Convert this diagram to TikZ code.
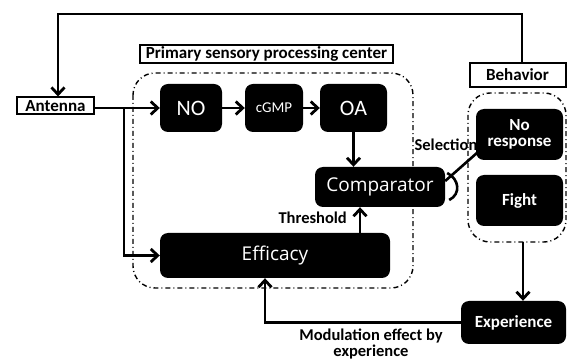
\documentclass[tikz,border=0pt]{standalone}
\usepackage{fontspec}
\setmainfont{Carlito}
\newfontfamily\osans{Open Sans}
\usetikzlibrary{arrows.meta}
\begin{document}
\begin{tikzpicture}[x=1pt,y=-1pt,
 blk/.style={fill=black, rounded corners=8pt, text=white, inner sep=0pt, align=center},
 lbl/.style={draw=black, line width=2pt, fill=white, inner sep=0pt, font=\fontsize{17}{18}\selectfont\bfseries},
 txt/.style={font=\fontsize{16.5}{16}\selectfont\bfseries, inner sep=0pt, align=center},
 arr/.style={line width=2.8pt, -{Straight Barb[length=7pt,width=13pt]}},
 ln/.style={line width=2.6pt},
 reg/.style={line width=1.4pt, dash pattern=on 5pt off 3pt on 1pt off 3pt, rounded corners=22pt}]
\useasboundingbox (0,0) rectangle (568,363);
% regions
\draw[reg] (133,73) rectangle (413,288);
\draw[reg] (468,93) rectangle (566,242);
% free labels
\node[txt] (sel) at (446,145) {Selection};
\node[txt, anchor=east] (thr) at (347,218) {Threshold};
\node[txt] (mod) at (371,344) {Modulation effect by\\experience};
% label boxes
\node[lbl, minimum width=253, minimum height=18] (psp) at (266.5,54) {Primary sensory processing center};
\node[lbl, minimum width=77, minimum height=17] (ant) at (55.5,106) {Antenna};
\node[lbl, minimum width=96, minimum height=24] (beh) at (517.5,75) {Behavior};
% black boxes
\node[blk, minimum width=62, minimum height=48, font=\fontsize{22}{24}\selectfont] (NO) at (191,108) {NO};
\node[blk, minimum width=58, minimum height=48, font=\fontsize{15}{17}\selectfont] (cg) at (274,108) {cGMP};
\node[blk, minimum width=67, minimum height=48, font=\fontsize{22}{24}\selectfont] (OA) at (353.5,108) {OA};
\node[blk, minimum width=130, minimum height=40, font=\osans\fontsize{19}{21}\selectfont] (comp) at (380,187) {Comparator};
\node[blk, minimum width=230, minimum height=45, font=\osans\fontsize{19}{21}\selectfont] (eff) at (275,255.5) {Efficacy};
\node[blk, minimum width=87, minimum height=51, font=\fontsize{17}{16}\selectfont\bfseries] (nr) at (519.5,134.5) {No\\response};
\node[blk, minimum width=87, minimum height=51, font=\fontsize{17}{18}\selectfont\bfseries] (fi) at (519.5,200.5) {Fight};
\node[blk, minimum width=105, minimum height=43, font=\fontsize{17}{18}\selectfont\bfseries] (exp) at (513.5,322.5) {Experience};
% connectors
\coordinate (tr) at (522,14);
\coordinate (tl) at (58,14);
\draw[arr] (tr |- beh.north) -- (tr) -- (tl) -- (tl |- ant.north);
\draw[arr] (ant.east |- NO.west) -- (NO.west);
\coordinate (br) at (124,108);
\draw[arr] (br) -- (br |- eff.west) -- (eff.west);
\draw[arr] (NO.east) -- (cg.west);
\draw[arr] (cg.east) -- (OA.west);
\draw[arr] (OA.south) -- (OA.south |- comp.north);
\coordinate (th) at (360,0);
\draw[arr] (th |- eff.north) -- (th |- comp.south);
\coordinate (ex) at (523,242);
\draw[arr] (ex) -- (ex |- exp.north);
\coordinate (mc) at (265,0);
\draw[arr] (exp.west) -- (mc |- exp.west) -- (mc |- eff.south);
\draw[ln] ([yshift=6pt]comp.east) -- ([xshift=2pt,yshift=8pt]nr.south west);
\draw[ln] ([xshift=2pt,yshift=14pt]comp.east) .. controls +(12,6) and +(12,-6) .. ([xshift=4pt,yshift=-13pt]comp.east);
\end{tikzpicture}
\end{document}
